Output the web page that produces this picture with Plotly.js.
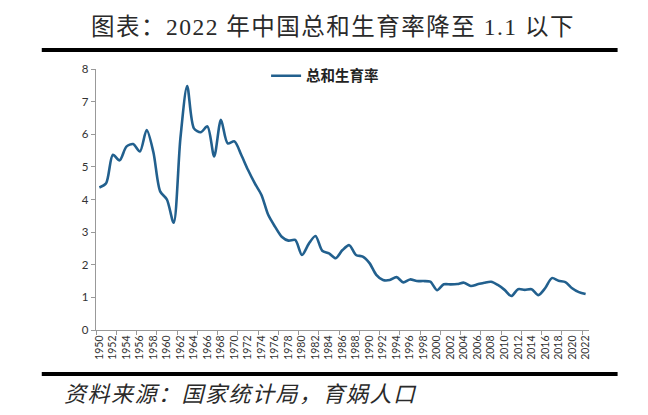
<!DOCTYPE html>
<html>
<head>
<meta charset="utf-8">
<script src="https://cdn.plot.ly/plotly-3.0.1.min.js"></script>
<style>html,body{margin:0;padding:0;background:#fff;}#chart{width:648px;height:415px;}
.annotation-text{letter-spacing:1.5px;}</style>
</head>
<body>
<div id="chart"></div>
<script>
const years = [];
for (let y = 1950; y <= 2022; y++) years.push(y);
const tfr = [
  4.37, 4.50, 5.37, 5.20, 5.62, 5.70, 5.47, 6.13, 5.45, 4.25,
  4.00, 3.29, 5.88, 7.48, 6.18, 6.06, 6.24, 5.32, 6.44, 5.72,
  5.78, 5.37, 4.91, 4.50, 4.14, 3.53, 3.17, 2.86, 2.74, 2.76,
  2.30, 2.64, 2.88, 2.43, 2.35, 2.20, 2.45, 2.60, 2.30, 2.25,
  2.05, 1.69, 1.53, 1.53, 1.62, 1.46, 1.55, 1.50, 1.50, 1.48,
  1.22, 1.40, 1.40, 1.41, 1.45, 1.35, 1.40, 1.45, 1.48, 1.38,
  1.23, 1.04, 1.25, 1.23, 1.25, 1.07, 1.28, 1.59, 1.51, 1.47,
  1.28, 1.16, 1.10
];
const tickYears = [];
for (let y = 1950; y <= 2022; y += 2) tickYears.push(y);
const tickLabels = tickYears.map(String);
const seriesName = '总和生育率';
const titleText = '图表：2022 年中国总和生育率降至 1.1 以下';
const sourceText = '资料来源：国家统计局，育娲人口';

const trace = {
  x: years, y: tfr, type: 'scatter', mode: 'lines', name: seriesName,
  line: {color: '#22608e', width: 2.6, shape: 'spline', smoothing: 0.8}
};

const layout = {
  width: 648, height: 415,
  margin: {l: 96, r: 59, t: 69, b: 85},
  paper_bgcolor: '#fff', plot_bgcolor: '#fff',
  font: {family: 'Lato, "Noto Sans CJK SC", sans-serif', color: '#333'},
  showlegend: true,
  legend: {
    x: 0.345, y: 1.035, xanchor: 'left', yanchor: 'top',
    bgcolor: 'rgba(0,0,0,0)',
    font: {family: '"Noto Sans CJK SC", sans-serif', size: 14.5, color: '#222', weight: 'bold'}
  },
  xaxis: {
    range: [1949.5, 2022.5], tickmode: 'array', tickvals: tickYears, ticktext: tickLabels,
    tickangle: -90, tickfont: {size: 10.5, color: '#333'},
    showline: true, linecolor: '#999', linewidth: 1.3,
    ticks: '', showgrid: false, zeroline: false,
    minor: {tick0: 1949.5, dtick: 3, ticks: 'outside', ticklen: 4, tickcolor: '#999', showgrid: false}
  },
  yaxis: {
    range: [0, 8], dtick: 1, tickfont: {size: 11.5, color: '#333'},
    showline: true, linecolor: '#999', linewidth: 1.3,
    ticks: 'outside', ticklen: 4, tickcolor: '#999',
    showgrid: false, zeroline: false
  },
  shapes: [
    {type: 'line', xref: 'paper', yref: 'paper', x0: -0.11, x1: 1.058, y0: 1.073, y1: 1.073,
     line: {color: '#000', width: 4}},
    {type: 'line', xref: 'paper', yref: 'paper', x0: -0.11, x1: 1.058, y0: -0.1686, y1: -0.1686,
     line: {color: '#000', width: 4}}
  ],
  annotations: [
    {text: titleText, xref: 'paper', yref: 'paper', x: (333 - 96) / 492.7, y: (330 - 27) / 261,
     xanchor: 'center', yanchor: 'middle', showarrow: false,
     font: {family: '"Liberation Serif", "Noto Sans CJK SC", serif', size: 23.5, color: '#2a2a2a', weight: 'normal'}},
    {text: '<i>' + sourceText + '</i>', xref: 'paper', yref: 'paper', x: (62 - 96) / 492.7, y: (330 - 394) / 261,
     xanchor: 'left', yanchor: 'middle', showarrow: false,
     font: {family: '"Liberation Serif", "Noto Sans CJK SC", serif', size: 22, color: '#2a2a2a'}}
  ]
};

Plotly.newPlot('chart', [trace], layout, {displayModeBar: false, staticPlot: true});
</script>
</body>
</html>
